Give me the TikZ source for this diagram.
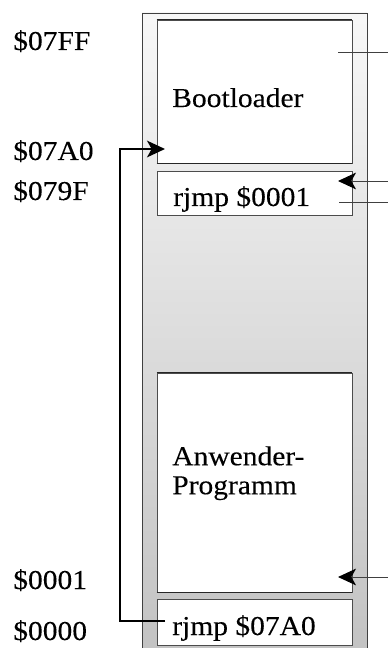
\documentclass[tikz,border=0pt]{standalone}
\usepackage{fontspec}
\setmainfont[FakeStretch=1.08, FakeBold=0.15]{Liberation Serif}
\usetikzlibrary{arrows.meta}

\tikzset{
  memblock/.style={draw=black!70, line width=0.6pt, fill=white, minimum width=146.25pt, inner sep=0pt},
  memtext/.style={anchor=base west, inner sep=0pt},
  edgeline/.style={line width=1.3pt, draw=black!85},
  pointer/.style={draw=black!75, line width=0.7pt},
  tip/.style={-{Stealth[length=13.5pt, width=12.5pt, inset=3.5pt, color=black]}}
}

\begin{document}
\begin{tikzpicture}[x=0.75pt, y=-0.75pt, font=\fontsize{20.5pt}{21.75pt}\selectfont]
\useasboundingbox (0,0) rectangle (388,648);
\clip (0,0) rectangle (388,648);
% flash area
\draw[draw=black!75, line width=0.7pt, top color=black!3, bottom color=black!24]
  (142,13) rectangle (367,660);
% blocks
\node[memblock, minimum height=107.25pt] (boot) at (254.5,91.5) {};
\node[memblock, minimum height=33pt] (jmpboot) at (254.5,193) {};
\node[memblock, minimum height=164.25pt] (app) at (254.5,482.5) {};
\node[memblock, minimum height=34.5pt] (jmpapp) at (254.5,622) {};
\draw[edgeline] (boot.north west) -- (boot.north east);
\draw[edgeline] (boot.south west) -- (boot.south east);
\draw[edgeline] (app.north west) -- (app.north east);
\draw[edgeline] (app.south west) -- (app.south east);
% texts
\node[memtext] (tboot) at (172,107) {Bootloader};
\node[memtext] (tjmpboot) at (173,206) {rjmp \$0001};
\node[anchor=north west, inner sep=0pt, align=left] (tapp) at (172,446) {Anwender-\\Programm};
\node[memtext] (tjmpapp) at (172,635) {rjmp \$07A0};
% addresses
\node[memtext] (a07FF) at (13,50) {\$07FF};
\node[memtext] (a07A0) at (13,160) {\$07A0};
\node[memtext] (a079F) at (13,200) {\$079F};
\node[memtext] (a0001) at (13,589) {\$0001};
\node[memtext] (a0000) at (13,640) {\$0000};
% jump from reset vector into bootloader
\coordinate (jsrc) at (165,621);
\coordinate (jtgt) at (165,149);
\draw[tip, line width=1.4pt] (jsrc) -- (120,621) |- (jtgt);
% pointers from the right
\coordinate (r1) at (388,52);   \coordinate (e1) at (338,52);
\coordinate (r2) at (388,181);  \coordinate (e2) at (338,181);
\coordinate (r3) at (388,202);  \coordinate (e3) at (339,202);
\coordinate (r4) at (388,577);  \coordinate (e4) at (338,577);
\draw[pointer] (r1) -- (e1);
\draw[pointer, tip] (r2) -- (e2);
\draw[pointer] (r3) -- (e3);
\draw[pointer, tip] (r4) -- (e4);
\end{tikzpicture}
\end{document}
